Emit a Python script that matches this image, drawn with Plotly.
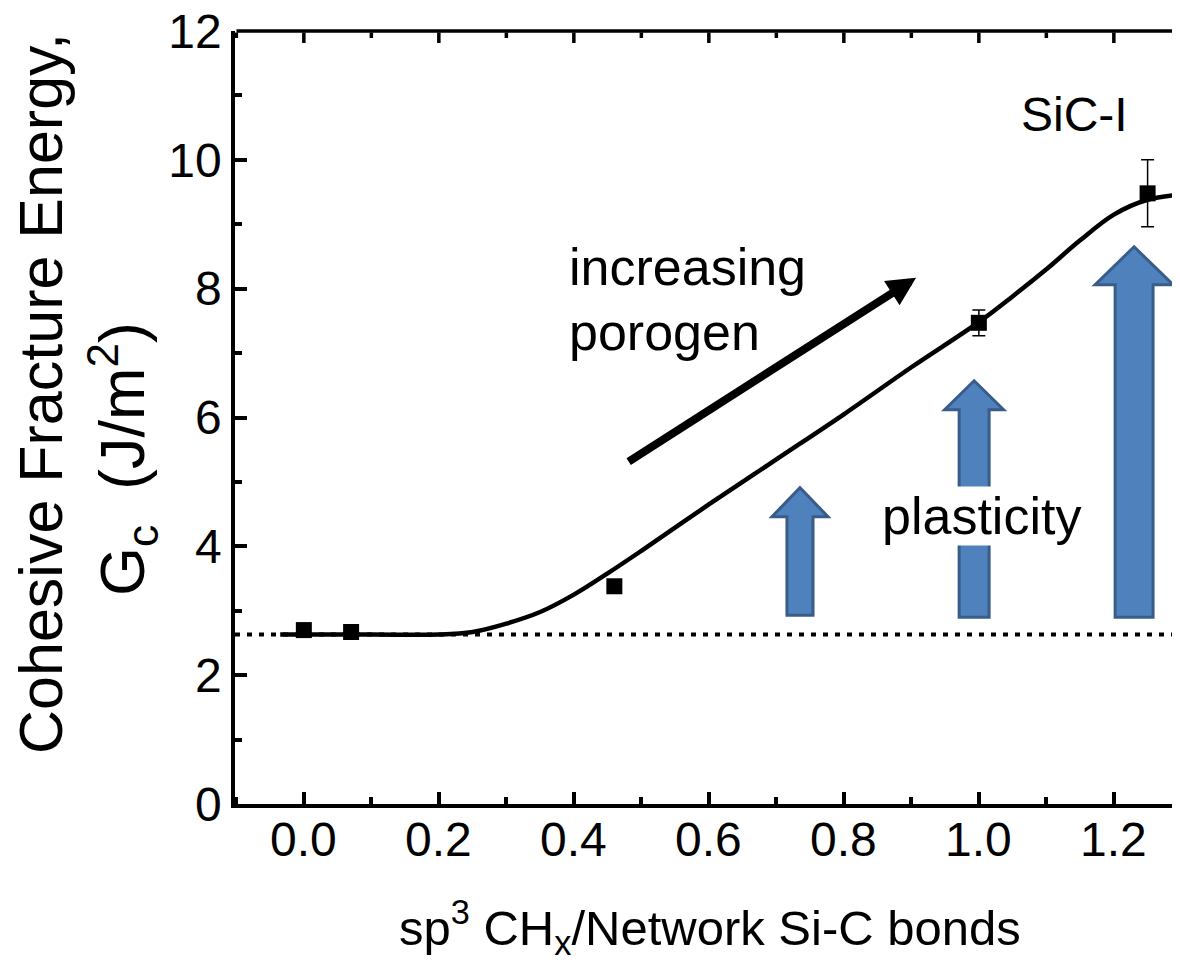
import plotly.graph_objects as go

# ---- data ----
pts_x = [0.0, 0.07, 0.46, 1.0, 1.25]
pts_y = [2.70, 2.67, 3.38, 7.47, 9.48]
pts_err = [0.0, 0.0, 0.0, 0.20, 0.52]

fit_x = [-0.035, 0.10, 0.20, 0.25, 0.30, 0.35, 0.40, 0.45, 0.50, 0.60, 0.70, 0.80,
         0.90, 1.00, 1.05, 1.10, 1.15, 1.20, 1.25, 1.30]
fit_y = [2.63, 2.63, 2.63, 2.67, 2.80, 2.98, 3.25, 3.58, 3.93, 4.65, 5.35, 6.05,
         6.78, 7.48, 7.88, 8.30, 8.75, 9.15, 9.38, 9.46]

baseline_y = 2.63
x_range = [-0.102, 1.298]
y_range = [0, 12]
x_ticks = [0.0, 0.2, 0.4, 0.6, 0.8, 1.0, 1.2]
x_ticklabels = ["0.0", "0.2", "0.4", "0.6", "0.8", "1.0", "1.2"]
x_minor = [-0.1, 0.1, 0.3, 0.5, 0.7, 0.9, 1.1]
y_ticks = [0, 2, 4, 6, 8, 10, 12]
y_ticklabels = ["0", "2", "4", "6", "8", "10", "12"]
y_minor = [1, 3, 5, 7, 9, 11]

# blue "plasticity" arrows: (center x, bottom y, head-base y, tip y, shaft half-width, head half-width)
plast_arrows = [
    (0.735, 2.93, 4.46, 4.91, 0.0193, 0.0415),
    (0.993, 2.90, 6.12, 6.57, 0.0222, 0.0437),
    (1.230, 2.90, 8.06, 8.65, 0.0281, 0.0578),
]

FONT = "Liberation Sans, Arial, sans-serif"
OFF = 8  # page body margin of the browser

# plot area in screen pixels
PL, PT, PR, PB = 235, 31, 1180, 804
W, H = 1180, 964
pw = PR - PL
ph = PB - PT

fig = go.Figure()

fig.add_trace(go.Scatter(x=x_range, y=[baseline_y, baseline_y], mode="lines",
                         line=dict(color="black", width=4, dash="5px,7px"),
                         hoverinfo="skip", showlegend=False))
fig.add_trace(go.Scatter(x=fit_x, y=fit_y, mode="lines",
                         line=dict(color="black", width=4.5, shape="spline", smoothing=1.0),
                         hoverinfo="skip", showlegend=False))
fig.add_trace(go.Scatter(x=pts_x, y=pts_y, mode="markers",
                         marker=dict(symbol="square", size=16, color="black"),
                         error_y=dict(type="data", array=pts_err, visible=True,
                                      thickness=1.5, width=6.5, color="black"),
                         showlegend=False))

shapes = []
for cx, yb, yh, yt, sw, hw in plast_arrows:
    path = (f"M {cx-sw},{yb} L {cx-sw},{yh} L {cx-hw},{yh} L {cx},{yt} "
            f"L {cx+hw},{yh} L {cx+sw},{yh} L {cx+sw},{yb} Z")
    shapes.append(dict(type="path", xref="x", yref="y", path=path,
                       fillcolor="#4F81BD", line=dict(color="#385D8A", width=3),
                       layer="above"))


def px(xs):
    return (xs - PL) / pw


def py(ys):
    return (PB - ys) / ph


annotations = [
    dict(x=0.907, y=8.17, ax=0.479, ay=5.30, xref="x", yref="y", axref="x", ayref="y",
         text="", showarrow=True, arrowhead=2, arrowsize=0.72, arrowwidth=8,
         arrowcolor="black", standoff=0, startstandoff=0),
    dict(x=0.39, y=8.34, xref="x", yref="y", text="increasing", showarrow=False,
         xanchor="left", yanchor="middle", font=dict(family=FONT, size=52, color="black")),
    dict(x=0.39, y=7.33, xref="x", yref="y", text="porogen", showarrow=False,
         xanchor="left", yanchor="middle", font=dict(family=FONT, size=52, color="black")),
    dict(x=1.004, y=4.47, xref="x", yref="y", text="plasticity", showarrow=False,
         xanchor="center", yanchor="middle", bgcolor="white", borderpad=0,
         font=dict(family=FONT, size=52, color="black")),
    dict(x=1.2237, y=10.7, xref="x", yref="y", text="SiC-I", showarrow=False,
         xanchor="right", yanchor="middle", font=dict(family=FONT, size=48, color="black")),
    dict(x=px(41), y=py(394), xref="paper", yref="paper",
         text="Cohesive Fracture Energy,", textangle=-90, showarrow=False,
         xanchor="center", yanchor="middle", font=dict(family=FONT, size=61, color="black")),
    dict(x=px(122), y=py(459), xref="paper", yref="paper",
         text="G<sub>c</sub>&nbsp; (J/m<sup>2</sup>)", textangle=-90, showarrow=False,
         xanchor="center", yanchor="middle", font=dict(family=FONT, size=63, color="black")),
    dict(x=px(710), y=py(928), xref="paper", yref="paper",
         text="sp<sup>3</sup> CH<sub>x</sub>/Network Si-C bonds", showarrow=False,
         xanchor="center", yanchor="middle", font=dict(family=FONT, size=49, color="black")),
]

# x tick labels placed just below the axis
for v, t in zip(x_ticks, x_ticklabels):
    annotations.append(dict(x=v, y=py(839), xref="x", yref="paper", text=t,
                            showarrow=False, xanchor="center", yanchor="middle",
                            font=dict(family=FONT, size=48, color="black")))

# top frame line and its inward ticks
annotations.append(dict(x=1, y=1, ax=0, ay=1, xref="x domain", yref="y domain",
                        axref="x domain", ayref="y domain", text="", showarrow=True,
                        arrowhead=0, arrowwidth=3.5, arrowcolor="black",
                        standoff=0, startstandoff=0))
for v in x_ticks + x_minor:
    L = 12 if v in x_ticks else 7
    annotations.append(dict(x=v, y=1 - L / ph, ax=v, ay=1, xref="x", yref="y domain",
                            axref="x", ayref="y domain", text="", showarrow=True,
                            arrowhead=0, arrowwidth=3.5, arrowcolor="black",
                            standoff=0, startstandoff=0))

fig.update_layout(
    width=W, height=H,
    margin=dict(l=PL - OFF, r=W - PR + OFF, t=PT - OFF, b=H - PB + OFF, autoexpand=False),
    paper_bgcolor="white", plot_bgcolor="white",
    showlegend=False,
    font=dict(family=FONT, size=48, color="black"),
    shapes=shapes, annotations=annotations,
    xaxis=dict(range=x_range, tickmode="array", tickvals=x_ticks, ticktext=x_ticklabels,
               showticklabels=False,
               ticks="inside", ticklen=12, tickwidth=3.5, tickcolor="black",
               showline=True, linewidth=3.5, linecolor="black", mirror=False,
               showgrid=False, zeroline=False, automargin=False,
               minor=dict(tickvals=x_minor, ticks="inside",
                          ticklen=7, tickwidth=3.5, tickcolor="black", showgrid=False)),
    yaxis=dict(range=y_range, tickmode="array", tickvals=y_ticks, ticktext=y_ticklabels,
               ticks="inside", ticklen=12, tickwidth=3.5, tickcolor="black",
               showline=True, linewidth=3.5, linecolor="black", mirror=False,
               showgrid=False, zeroline=False, ticklabelstandoff=0, automargin=False,
               ticklabeloverflow="allow",
               tickfont=dict(family=FONT, size=48, color="black"),
               minor=dict(tickvals=y_minor, ticks="inside",
                          ticklen=7, tickwidth=3.5, tickcolor="black", showgrid=False)),
)

fig.write_html("out.html")
